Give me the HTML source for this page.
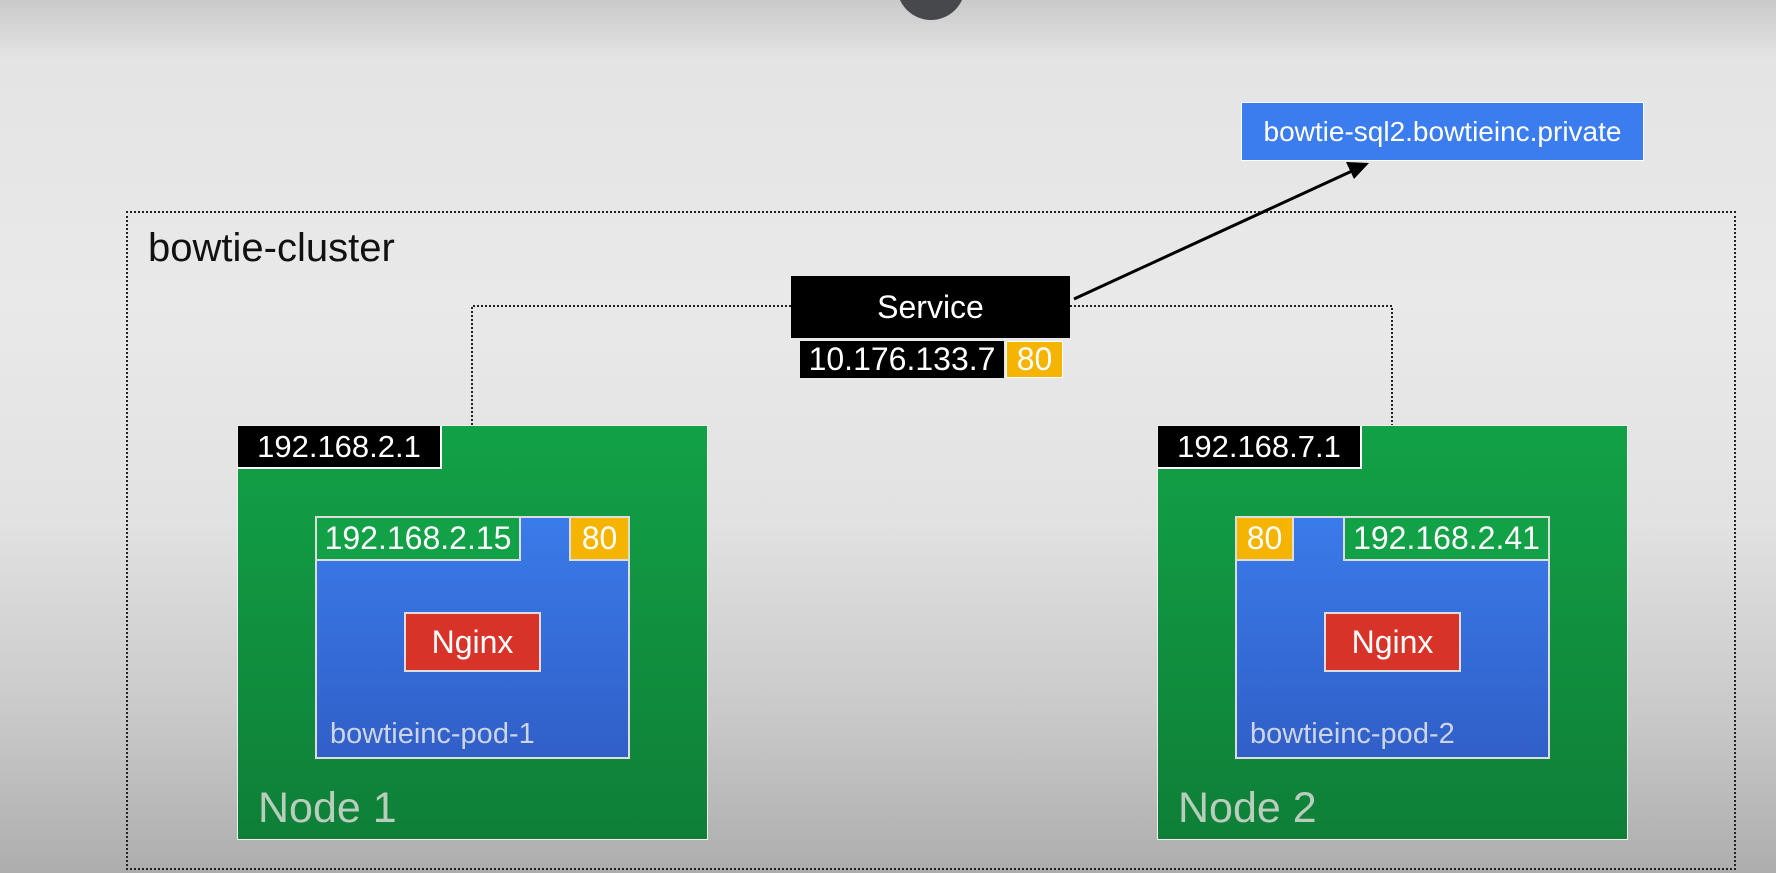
<!DOCTYPE html>
<html><head><meta charset="utf-8"><style>
html,body{margin:0;padding:0}
body{width:1776px;height:873px;position:relative;overflow:hidden;font-family:"Liberation Sans",sans-serif;
background:linear-gradient(#c9c9c9 0px,#e4e4e4 60px,#e9e9e9 300px,#e2e2e2 520px,#c8c8c8 720px,#adadad 873px);}
.a{position:absolute;box-sizing:border-box}
.t{display:flex;align-items:center;justify-content:center;color:#fff;white-space:nowrap}
</style></head><body>
<div class="a" style="left:897px;top:-48px;width:68px;height:68px;border-radius:50%;background:#47484c"></div>
<div class="a" style="left:126px;top:211px;width:1610px;height:659px;border:2px dotted #222"></div>
<div class="a" style="left:148px;top:226px;font-size:40px;color:#111">bowtie-cluster</div>
<svg class="a" style="left:0;top:0" width="1776" height="873">
<polyline points="791,306 472,306 472,425" fill="none" stroke="#222" stroke-width="2" stroke-dasharray="2,2"/>
<polyline points="1070,306 1392,306 1392,425" fill="none" stroke="#222" stroke-width="2" stroke-dasharray="2,2"/>
<line x1="1074" y1="299" x2="1352" y2="171" stroke="#000" stroke-width="3"/>
<polygon points="1369,163 1346,162 1354,179" fill="#000"/>
</svg>
<div class="a t" style="left:1241px;top:102px;width:403px;height:59px;background:#3b7cee;border:1px solid #fff;font-size:28px">bowtie-sql2.bowtieinc.private</div>
<div class="a t" style="left:791px;top:276px;width:279px;height:62px;background:#000;font-size:32px">Service</div>
<div class="a t" style="left:800px;top:341px;width:204px;height:37px;background:#000;font-size:32px">10.176.133.7</div>
<div class="a t" style="left:1006px;top:341px;width:57px;height:37px;background:#f4b400;border:1px solid #fff;font-size:32px">80</div>

<div class="a" style="left:237px;top:425px;width:471px;height:415px;background:linear-gradient(#12a146,#0f7f38);border:1px solid #eee"></div>
<div class="a t" style="left:238px;top:426px;width:204px;height:43px;background:#000;border-right:2px solid #fff;border-bottom:2px solid #fff;font-size:31px">192.168.2.1</div>
<div class="a" style="left:315px;top:516px;width:315px;height:243px;background:linear-gradient(#3a7bea,#315fc8);border:2px solid #ddd"></div>
<div class="a t" style="left:315px;top:516px;width:206px;height:45px;background:#12a146;border:2px solid #ddd;font-size:32px">192.168.2.15</div>
<div class="a t" style="left:569px;top:516px;width:61px;height:45px;background:#f4b400;border:2px solid #ddd;font-size:32px">80</div>
<div class="a t" style="left:404px;top:612px;width:137px;height:60px;background:#d83329;border:2px solid #ddd;font-size:32px">Nginx</div>
<div class="a" style="left:330px;top:718px;font-size:29px;color:#cdd5e4">bowtieinc-pod-1</div>
<div class="a" style="left:258px;top:784px;font-size:43px;color:#b9cdbd">Node 1</div>

<div class="a" style="left:1157px;top:425px;width:471px;height:415px;background:linear-gradient(#12a146,#0f7f38);border:1px solid #eee"></div>
<div class="a t" style="left:1158px;top:426px;width:204px;height:43px;background:#000;border-right:2px solid #fff;border-bottom:2px solid #fff;font-size:31px">192.168.7.1</div>
<div class="a" style="left:1235px;top:516px;width:315px;height:243px;background:linear-gradient(#3a7bea,#315fc8);border:2px solid #ddd"></div>
<div class="a t" style="left:1235px;top:516px;width:59px;height:45px;background:#f4b400;border:2px solid #ddd;font-size:32px">80</div>
<div class="a t" style="left:1343px;top:516px;width:207px;height:45px;background:#12a146;border:2px solid #ddd;font-size:32px">192.168.2.41</div>
<div class="a t" style="left:1324px;top:612px;width:137px;height:60px;background:#d83329;border:2px solid #ddd;font-size:32px">Nginx</div>
<div class="a" style="left:1250px;top:718px;font-size:29px;color:#cdd5e4">bowtieinc-pod-2</div>
<div class="a" style="left:1178px;top:784px;font-size:43px;color:#b9cdbd">Node 2</div>
</body></html>
